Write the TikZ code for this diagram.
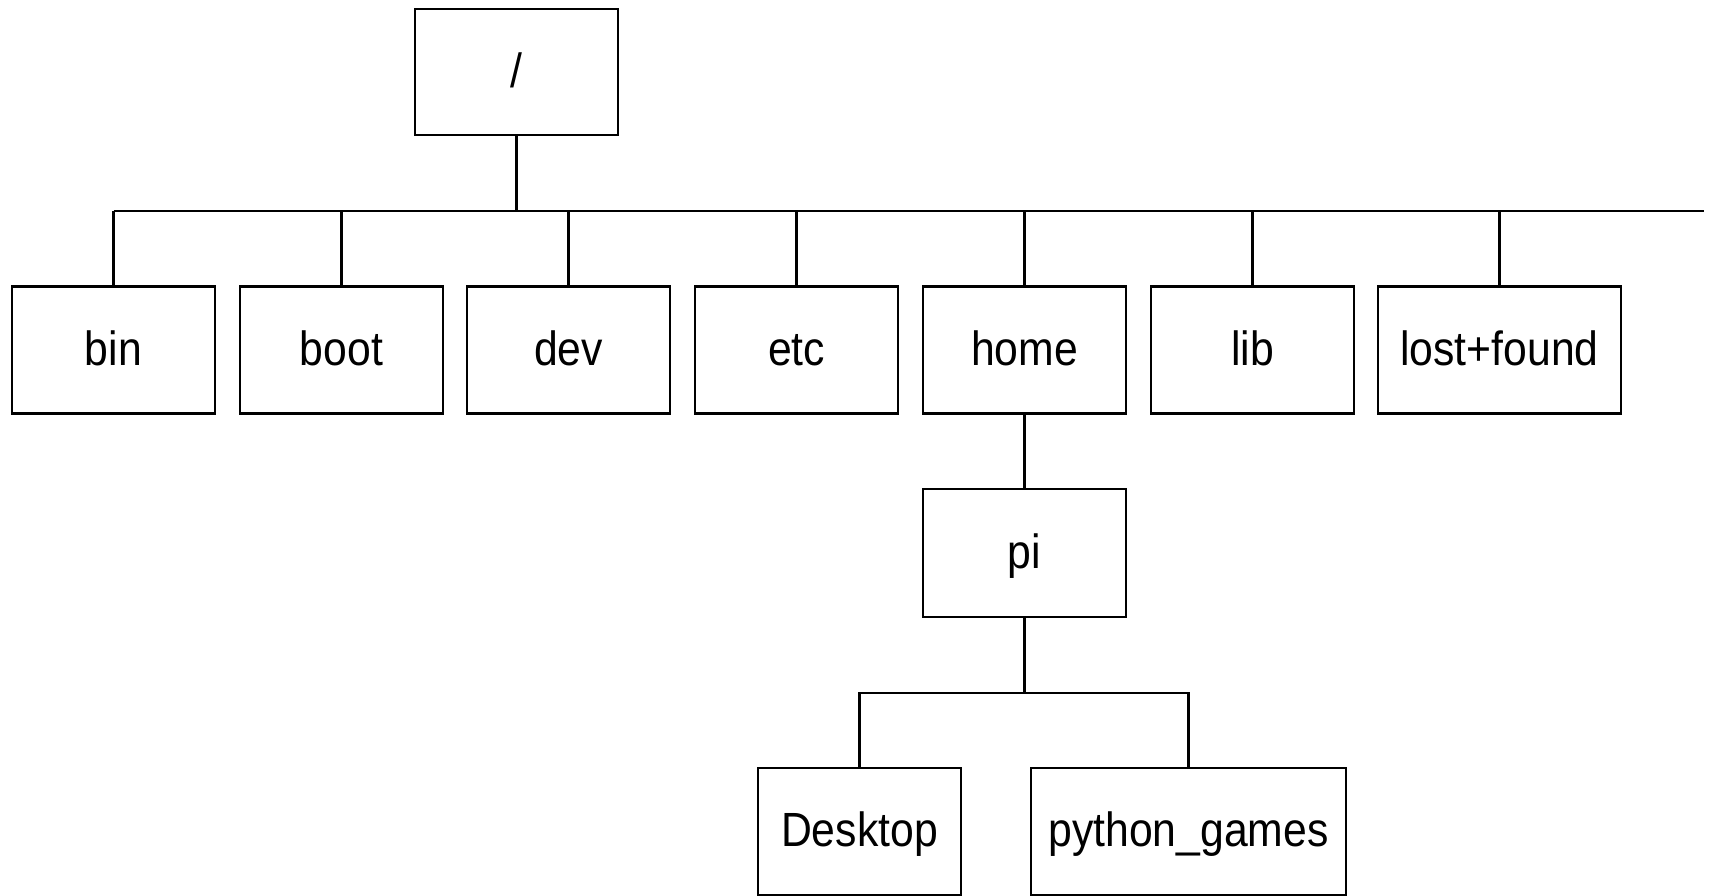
\documentclass[tikz,border=0pt]{standalone}
\usepackage{fontspec}
\setmainfont{Liberation Sans}[FakeStretch=0.89]
\begin{document}
\begin{tikzpicture}[x=1pt,y=-1pt,
  dirbox/.style={draw=black, line width=2.3pt, inner sep=0pt, minimum width=203pt,
    minimum height=127pt, text height=30pt, text depth=0pt,
    font=\fontsize{48}{52}\selectfont},
  link/.style={line width=2.2pt}]
\useasboundingbox (0,0) rectangle (1711,895);
\begin{scope}
\clip (0,0) rectangle (1711,895);
\node[dirbox, minimum height=126pt] (root) at (516.5,72) {/};
\node[dirbox] (bin) at (113.5,350) {bin};
\node[dirbox] (boot) at (341.5,350) {boot};
\node[dirbox] (dev) at (568.5,350) {dev};
\node[dirbox] (etc) at (796.5,350) {etc};
\node[dirbox] (home) at (1024.5,350) {home};
\node[dirbox] (lib) at (1252.5,350) {lib};
\node[dirbox, minimum width=243pt] (lost) at (1499.5,350) {lost+found};
\node[dirbox, minimum height=128pt] (pi) at (1024.5,553) {pi};
\node[dirbox] (desk) at (859.5,831.5) {Desktop};
\node[dirbox, minimum width=315pt] (pyg) at (1188.5,831.5) {python\_games};
\coordinate (busR) at (1704,211);
\coordinate (busL) at (bin.north |- busR);
\coordinate (sub) at (pi.south |- 0,693);
\draw[link] (busL) -- (busR);
\draw[link] (root.south) -- (root.south |- busR);
\foreach \n in {bin,boot,dev,etc,home,lib,lost}
  \draw[link] (\n.north) -- (\n.north |- busR);
\draw[link] (home.south) -- (pi.north);
\draw[link] (pi.south) -- (sub);
\draw[link] (desk.north) |- (sub) -| (pyg.north);
\end{scope}
\end{tikzpicture}
\end{document}
